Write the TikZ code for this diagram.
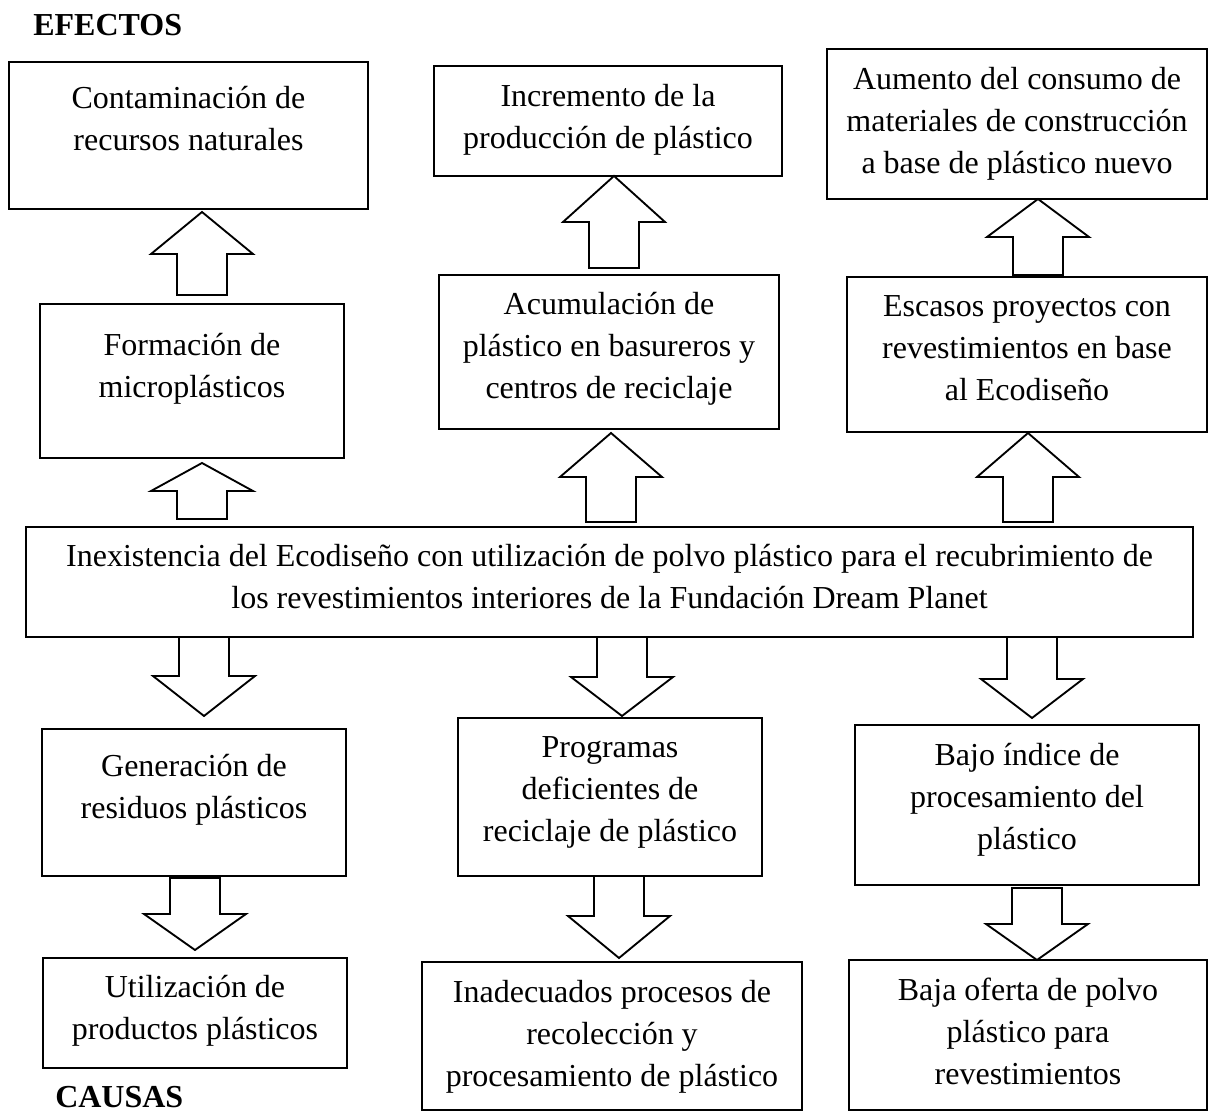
\documentclass[tikz,border=0pt]{standalone}
\usepackage{fontspec}
\setmainfont{Liberation Serif}
\usetikzlibrary{calc,fit}

\begin{document}
\begin{tikzpicture}[x=0.75pt,y=-0.75pt,
  box/.style={draw, line width=1.4pt, inner sep=0pt},
  lbl/.style={align=flush center, anchor=base, inner sep=0pt, text width=300pt, font=\fontsize{24}{31.5}\selectfont},
  head/.style={anchor=base west, inner sep=0pt, font=\bfseries\fontsize{24}{31.5}\selectfont},
  fat/.style={draw, line width=1.4pt, fill=white, line join=miter}]

\useasboundingbox (0,0) rectangle (1213,1112);

%block arrow: tail, head base, tip
\newcommand{\fatarrow}[3]{%
  \draw[fat] ($(#1)+(-25,0)$) -- ($(#2)+(-25,0)$) -- ($(#2)+(-51,0)$) -- (#3)
    -- ($(#2)+(51,0)$) -- ($(#2)+(25,0)$) -- ($(#1)+(25,0)$) -- cycle;
}

\node[head] (efectos) at (33,36) {EFECTOS};
\node[head] (causas) at (55,1107) {CAUSAS};

%efectos
\node[box, fit={(9,62) (368,209)}] (b1) {};
\node[box, fit={(434,66) (782,176)}] (b2) {};
\node[box, fit={(827,49) (1207,199)}] (b3) {};
\node[box, fit={(40,304) (344,458)}] (b4) {};
\node[box, fit={(439,275) (779,429)}] (b5) {};
\node[box, fit={(847,277) (1207,432)}] (b6) {};

%problema central
\node[box, fit={(26,527) (1193,637)}] (c) {};

%causas
\node[box, fit={(42,729) (346,876)}] (b7) {};
\node[box, fit={(458,718) (762,876)}] (b8) {};
\node[box, fit={(855,725) (1199,885)}] (b9) {};
\node[box, fit={(43,958) (347,1068)}] (b10) {};
\node[box, fit={(422,962) (802,1110)}] (b11) {};
\node[box, fit={(849,960) (1207,1110)}] (b12) {};

\node[lbl] (t1) at ($(b1.north)+(0,47)$) {Contaminación de\\recursos naturales};
\node[lbl] (t2) at ($(b2.north)+(0,41)$) {Incremento de la\\producción de plástico};
\node[lbl] (t3) at ($(b3.north)+(0,41)$) {Aumento del consumo de\\materiales de construcción\\a base de plástico nuevo};
\node[lbl] (t4) at ($(b4.north)+(0,52)$) {Formación de\\microplásticos};
\node[lbl] (t5) at ($(b5.north)+(0,40)$) {Acumulación de\\plástico en basureros y\\centros de reciclaje};
\node[lbl] (t6) at ($(b6.north)+(0,40)$) {Escasos proyectos con\\revestimientos en base\\al Ecodiseño};
\node[lbl, text width=880pt] (tc) at ($(c.north)+(0,40)$) {Inexistencia del Ecodiseño con utilización de polvo plástico para el recubrimiento de\\los revestimientos interiores de la Fundación Dream Planet};
\node[lbl] (t7) at ($(b7.north)+(0,48)$) {Generación de\\residuos plásticos};
\node[lbl] (t8) at ($(b8.north)+(0,40)$) {Programas\\deficientes de\\reciclaje de plástico};
\node[lbl] (t9) at ($(b9.north)+(0,41)$) {Bajo índice de\\procesamiento del\\plástico};
\node[lbl] (t10) at ($(b10.north)+(0,40)$) {Utilización de\\productos plásticos};
\node[lbl] (t11) at ($(b11.north)+(0,41)$) {Inadecuados procesos de\\recolección y\\procesamiento de plástico};
\node[lbl] (t12) at ($(b12.north)+(0,41)$) {Baja oferta de polvo\\plástico para\\revestimientos};

%flechas: cola, base de la punta, punta
\coordinate (a1t) at (202,295);  \coordinate (a1h) at (202,254);  \coordinate (a1p) at (202,212);
\coordinate (a2t) at (614,268);  \coordinate (a2h) at (614,222);  \coordinate (a2p) at (614,176);
\coordinate (a3t) at (1038,275); \coordinate (a3h) at (1038,237); \coordinate (a3p) at (1038,199);
\coordinate (a4t) at (202,519);  \coordinate (a4h) at (202,491);  \coordinate (a4p) at (202,463);
\coordinate (a5t) at (611,522);  \coordinate (a5h) at (611,477);  \coordinate (a5p) at (611,433);
\coordinate (a6t) at (1028,522); \coordinate (a6h) at (1028,477); \coordinate (a6p) at (1028,433);
\coordinate (a7t) at (204,637);  \coordinate (a7h) at (204,676);  \coordinate (a7p) at (204,716);
\coordinate (a8t) at (622,637);  \coordinate (a8h) at (622,677);  \coordinate (a8p) at (622,716);
\coordinate (a9t) at (1032,637); \coordinate (a9h) at (1032,679); \coordinate (a9p) at (1032,718);
\coordinate (a10t) at (195,878); \coordinate (a10h) at (195,914); \coordinate (a10p) at (195,950);
\coordinate (a11t) at (619,876); \coordinate (a11h) at (619,916); \coordinate (a11p) at (619,958);
\coordinate (a12t) at (1037,888); \coordinate (a12h) at (1037,924); \coordinate (a12p) at (1037,960);

\foreach \i in {1,...,12}{
  \fatarrow{a\i t}{a\i h}{a\i p}
}

\end{tikzpicture}
\end{document}
